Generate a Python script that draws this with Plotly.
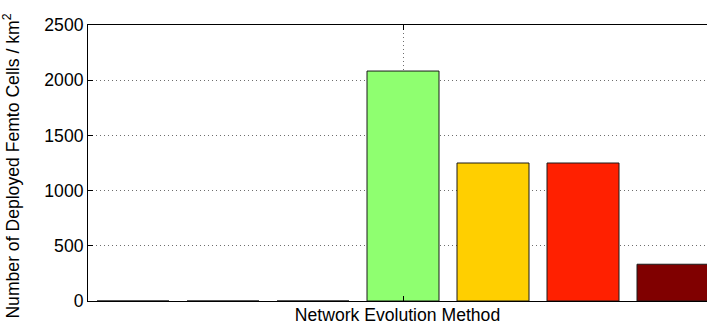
import plotly.graph_objects as go

# Deployed femto cell density for each network evolution method (one group of 7 bars)
methods = ["M1", "M2", "M3", "M4", "M5", "M6", "M7"]
slots = [1, 2, 3, 4, 5, 6, 7]
femto_density = [0, 0, 0, 2083, 1250, 1250, 333]
bar_colors = ["#00008F", "#0050FF", "#00DFFF", "#8FFF70", "#FFCF00", "#FF2000", "#800000"]

y_ticks = [0, 500, 1000, 1500, 2000, 2500]

W, H = 707, 331
ML, MT, MB, MR = 88, 25, 30, 0
slot_px = 90.0
x_lo = 0.5
x_hi = x_lo + (W - ML - MR) / slot_px

font = dict(family="Liberation Sans, Arial, Helvetica, sans-serif", size=17.6, color="#000000")
grid_dash = "1px,3px"

fig = go.Figure()
fig.add_trace(go.Bar(
    x=slots,
    y=femto_density,
    text=methods,
    textposition="none",
    width=0.8,
    marker=dict(color=bar_colors, line=dict(color="#1a1a1a", width=1)),
    hoverinfo="y",
))

fig.update_layout(
    width=W,
    height=H,
    margin=dict(l=ML, r=MR, t=MT, b=MB, pad=0),
    paper_bgcolor="#ffffff",
    plot_bgcolor="#ffffff",
    font=font,
    showlegend=False,
    xaxis=dict(
        range=[x_lo, x_hi],
        tickvals=[4],
        showticklabels=False,
        ticks="inside",
        ticklen=5,
        tickcolor="#000000",
        showline=True,
        linecolor="#000000",
        linewidth=1,
        mirror="ticks",
        showgrid=True,
        gridcolor="#6e6e6e",
        griddash=grid_dash,
        gridwidth=1,
        zeroline=False,
        title=dict(text="Network Evolution Method", font=font, standoff=7),
    ),
    yaxis=dict(
        range=[0, 2500],
        tickvals=y_ticks,
        ticks="inside",
        ticklen=5,
        tickcolor="#000000",
        showline=True,
        linecolor="#000000",
        linewidth=1,
        mirror=False,
        showgrid=True,
        gridcolor="#6e6e6e",
        griddash=grid_dash,
        gridwidth=1,
        zeroline=False,
        tickfont=font,
    ),
    annotations=[dict(
        text="Number of Deployed Femto Cells / km<sup>2</sup>",
        textangle=-90,
        xref="paper", yref="paper",
        x=-(ML - 11) / (W - ML - MR),
        y=0.487,
        xanchor="center", yanchor="middle",
        showarrow=False,
        font=font,
    )],
)

fig.write_html("out.html")
